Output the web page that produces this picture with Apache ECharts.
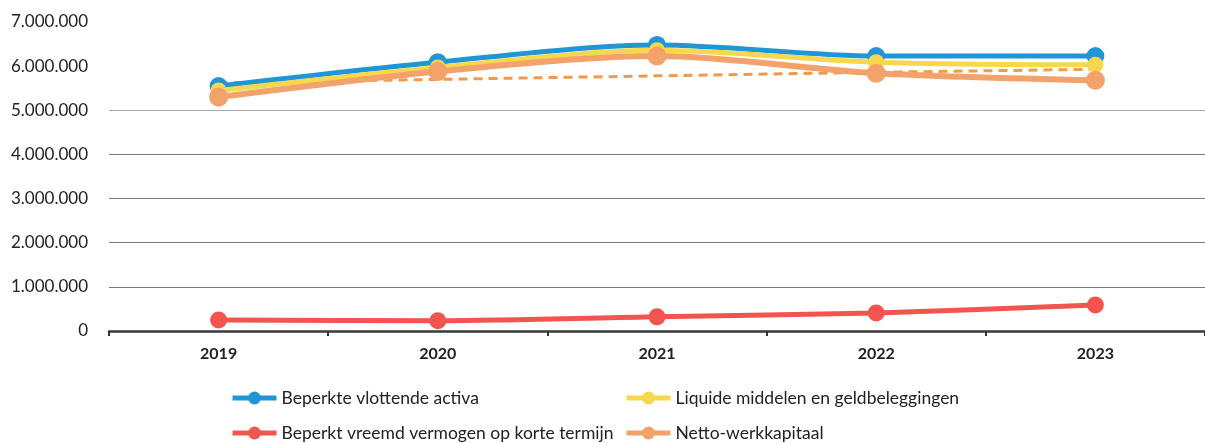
<!DOCTYPE html>
<html>
<head>
<meta charset="utf-8">
<script src="https://cdn.jsdelivr.net/npm/echarts@6/dist/echarts.min.js"></script>
<style>
html,body{margin:0;padding:0;background:#fff;}
#chart{width:1205px;height:443px;}
</style>
</head>
<body>
<div id="chart"></div>
<script>
// ---- data ----
var years = ['2019', '2020', '2021', '2022', '2023'];
var vlottendeActiva = [5550000, 6090000, 6480000, 6230000, 6230000];
var liquideMiddelen = [5450000, 5970000, 6360000, 6090000, 6030000];
var vreemdVermogen = [250000, 230000, 320000, 410000, 590000];
var nettoWerkkapitaal = [5300000, 5880000, 6230000, 5840000, 5680000];
var nettoTrend = [5620000, 5700000, 5780000, 5860000, 5930000];
var seriesNames = ['Beperkte vlottende activa', 'Liquide middelen en geldbeleggingen', 'Beperkt vreemd vermogen op korte termijn', 'Netto-werkkapitaal'];
var yTicks = [0, 1000000, 2000000, 3000000, 4000000, 5000000, 6000000, 7000000];

var FONT = 'Lato, "Open Sans", sans-serif';
var colors = ['#2196d6', '#f7d84c', '#f2554f', '#f3a26c'];

function fmt(v) {
  return String(v).replace(/\B(?=(\d{3})+(?!\d))/g, '.');
}

var chart = echarts.init(document.getElementById('chart'), null, {renderer: 'canvas'});

function legendAt(name, left, top) {
  return {
    data: [name], left: left, top: top, orient: 'horizontal',
    itemWidth: 44, itemHeight: 16, itemGap: 8,
    lineStyle: {width: 5},
    textStyle: {fontFamily: FONT, fontSize: 17.5, color: '#222'},
    selectedMode: false
  };
}

var option = {
  backgroundColor: '#ffffff',
  animation: false,
  grid: {left: 109, top: 22, width: 1100, height: 309, containLabel: false},
  legend: [
    legendAt(seriesNames[0], 225, 384),
    legendAt(seriesNames[1], 619, 384),
    legendAt(seriesNames[2], 225, 419),
    legendAt(seriesNames[3], 619, 419)
  ],
  xAxis: {
    type: 'category',
    data: years,
    boundaryGap: true,
    axisLine: {show: true, lineStyle: {color: '#3a3a3a', width: 2.5}},
    axisTick: {show: true, length: 5, lineStyle: {color: '#333', width: 2}},
    axisLabel: {fontFamily: FONT, fontSize: 16, fontWeight: 'bold', color: '#222', margin: 15},
    splitLine: {show: false}
  },
  yAxis: {
    type: 'value',
    min: yTicks[0],
    max: yTicks[yTicks.length - 1],
    interval: 1000000,
    axisLine: {show: false},
    axisTick: {show: false},
    axisLabel: {fontFamily: FONT, fontSize: 17, color: '#222', margin: 21, formatter: fmt},
    splitLine: {show: true, lineStyle: {color: ['rgba(0,0,0,0)', '#7a7a7a', '#7a7a7a', '#7a7a7a', '#7a7a7a', '#a8a8a8', 'rgba(0,0,0,0)', 'rgba(0,0,0,0)'], width: 1}}
  },
  series: [
    {
      name: 'trend', type: 'line', data: nettoTrend, symbol: 'none', smooth: false, z: 1,
      lineStyle: {color: '#f29a4a', width: 3, type: [9, 6]}
    },
    {
      name: seriesNames[0], type: 'line', data: vlottendeActiva, smooth: 0.3, z: 2,
      symbol: 'circle', symbolSize: 18,
      itemStyle: {color: colors[0]}, lineStyle: {color: colors[0], width: 5}
    },
    {
      name: seriesNames[1], type: 'line', data: liquideMiddelen, smooth: 0.3, z: 3,
      symbol: 'circle', symbolSize: 16,
      itemStyle: {color: colors[1]}, lineStyle: {color: colors[1], width: 5}
    },
    {
      name: seriesNames[2], type: 'line', data: vreemdVermogen, smooth: 0.3, z: 4,
      symbol: 'circle', symbolSize: 17,
      itemStyle: {color: colors[2]}, lineStyle: {color: colors[2], width: 5}
    },
    {
      name: seriesNames[3], type: 'line', data: nettoWerkkapitaal, smooth: 0.3, z: 5,
      symbol: 'circle', symbolSize: 19,
      itemStyle: {color: colors[3]}, lineStyle: {color: colors[3], width: 6}
    }
  ]
};
chart.setOption(option);
</script>
</body>
</html>
